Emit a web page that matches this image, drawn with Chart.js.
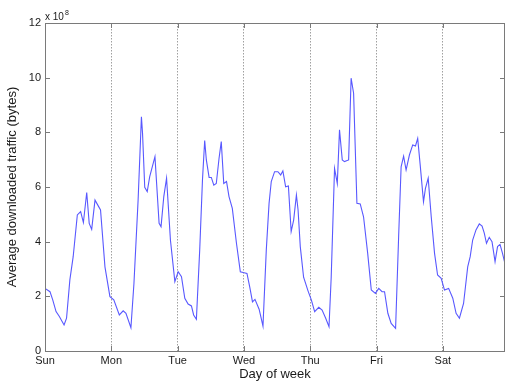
<!DOCTYPE html>
<html>
<head>
<meta charset="utf-8">
<script src="https://cdn.jsdelivr.net/npm/chart.js@4/dist/chart.umd.min.js"></script>
<style>
    html, body { margin: 0; padding: 0; background: #fff; }
    #wrap { width: 506px; height: 382px; }
</style>
</head>
<body>
<div id="wrap"><canvas id="grafico" width="506" height="382"></canvas></div>
<script>
// hours since Sunday 00:00
const horas = [0, 1.8, 2.8, 4, 5.2, 6.9, 7.8, 9, 10.2, 11.7, 12.9, 13.9, 15.1, 16, 16.9, 18.1, 20.1, 21.7, 23.5,
    24.9, 26.9, 28.3, 29.3, 31.1, 32.2, 33.7, 34.9, 35.3, 36.1, 37, 37.9, 39.8, 41.3, 42, 43, 44, 45.4, 47,
    48.2, 49.4, 50.6, 51.8, 53, 53.8, 54.8, 56, 57, 57.8, 58.4, 59.4, 60.2, 61.1, 62, 63, 63.8, 64.7, 65.7, 66.6, 67.8, 69.3, 70.7,
    71.7, 73.1, 74.1, 75.1, 76, 77.5, 78.9, 80.1, 81.1, 81.9, 83.1, 84.3, 85.3, 86.1, 87.1, 88.1, 89.1, 90, 91, 91.6, 92.4, 93.6, 95.2,
    96.4, 97.6, 99.1, 100.3, 101.6, 102.8, 103.6, 104.8, 105.8, 106.6, 107.6, 108.4, 109.9, 110.8, 111.7, 112.9, 114.1, 115.3, 116.8, 118.1, 119.6,
    120.8, 122, 122.9, 124.1, 125.3, 126.9, 128, 128.9, 129.8, 130.7, 131.9, 133.1, 134.1, 134.9, 135.8, 137, 137.7, 138.7, 139.8, 141, 142.1, 143.4,
    144.6, 146.1, 147.6, 148.8, 150, 151.5, 153, 153.9, 154.8, 156, 157.2, 158.2, 159, 159.8, 160.8, 161.8, 162.9, 163.8, 164.7, 165.6, 166.6]

// average downloaded traffic, x 10^8 bytes
const trafego = [2.29, 2.17, 1.87, 1.44, 1.26, 0.95, 1.2, 2.6, 3.45, 4.98, 5.1, 4.7, 5.8, 4.67, 4.45, 5.52, 5.16, 3.08, 1.99,
    1.87, 1.32, 1.47, 1.38, 0.85, 2.48, 5.52, 8.57, 7.97, 5.99, 5.83, 6.38, 7.11, 4.67, 4.55, 5.65, 6.32, 4.06, 2.54,
    2.9, 2.72, 1.93, 1.72, 1.65, 1.32, 1.16, 3.7, 6.26, 7.7, 6.99, 6.35, 6.35, 6.07, 6.13, 7.05, 7.66, 6.13, 6.2, 5.65, 5.22, 3.94, 2.9,
    2.87, 2.84, 2.35, 1.8, 1.89, 1.53, 0.91, 3.7, 5.4, 6.2, 6.56, 6.56, 6.44, 6.59, 6.01, 6.04, 4.37, 4.79, 5.71, 5.16, 3.82, 2.7, 2.2,
    1.87, 1.44, 1.6, 1.5, 1.2, 0.89, 2.72, 6.68, 6.13, 8.09, 6.99, 6.93, 6.99, 9.98, 9.43, 5.4, 5.38, 4.91, 3.57, 2.23, 2.11,
    2.29, 2.17, 2.17, 1.38, 1.01, 0.83, 4.18, 6.74, 7.13, 6.62, 7.17, 7.54, 7.5, 7.78, 6.81, 5.46, 5.95, 6.32, 4.91, 3.57, 2.78, 2.66,
    2.23, 2.29, 1.93, 1.38, 1.2, 1.74, 3.08, 3.45, 4.06, 4.43, 4.65, 4.57, 4.31, 3.94, 4.16, 4.0, 3.27, 3.82, 3.9, 3.57, 3.15]

const dias = ['Sun', 'Mon', 'Tue', 'Wed', 'Thu', 'Fri', 'Sat']
const ticksY = [0, 2, 4, 6, 8, 10, 12]

const fonte = '"Liberation Sans", Arial, sans-serif'
const corEixo = '#7a7a7a'

// MATLAB-like box with inward ticks and the x 10^8 label
const moldura = {
    id: 'moldura',
    afterDraw(chart) {
        const ctx = chart.ctx
        const a = chart.chartArea
        const sx = chart.scales.x
        const sy = chart.scales.y
        ctx.save()
        ctx.strokeStyle = corEixo
        ctx.lineWidth = 1
        ctx.strokeRect(Math.round(a.left) + 0.5, Math.round(a.top) + 0.5, Math.round(a.right - a.left) - 1, Math.round(a.bottom - a.top))
        ctx.beginPath()
        sx.ticks.forEach(t => {
            const x = Math.round(sx.getPixelForValue(t.value)) + 0.5
            ctx.moveTo(x, a.bottom); ctx.lineTo(x, a.bottom - 5)
            ctx.moveTo(x, a.top); ctx.lineTo(x, a.top + 5)
        })
        sy.ticks.forEach(t => {
            const y = Math.round(sy.getPixelForValue(t.value)) + 0.5
            ctx.moveTo(a.left, y); ctx.lineTo(a.left + 5, y)
            ctx.moveTo(a.right, y); ctx.lineTo(a.right - 5, y)
        })
        ctx.stroke()

        ctx.fillStyle = '#1a1a1a'
        ctx.textBaseline = 'alphabetic'
        ctx.textAlign = 'left'
        ctx.font = '10px ' + fonte
        ctx.fillText('x 10', a.left, a.top - 3)
        const w = ctx.measureText('x 10').width
        ctx.font = '7px ' + fonte
        ctx.fillText('8', a.left + w + 1, a.top - 8)
        ctx.restore()
    }
}

const ctx = document.getElementById('grafico').getContext('2d')

new Chart(ctx, {
    type: 'line',
    data: {
        datasets: [{
            data: horas.map((h, i) => ({ x: h, y: trafego[i] })),
            borderColor: '#5858ff',
            borderWidth: 1.1,
            pointRadius: 0,
            tension: 0,
            fill: false
        }]
    },
    options: {
        responsive: false,
        animation: false,
        layout: { padding: { top: 23, right: 1, left: 0, bottom: 0 } },
        plugins: {
            legend: { display: false },
            tooltip: { enabled: false }
        },
        scales: {
            x: {
                type: 'linear',
                min: 0,
                max: 166.5,
                afterFit: scale => { scale.height = 31 },
                afterBuildTicks: scale => {
                    scale.ticks = dias.map((d, i) => ({ value: i * 24 }))
                },
                ticks: {
                    autoSkip: false,
                    maxRotation: 0,
                    padding: 3,
                    color: '#1a1a1a',
                    font: { family: fonte, size: 11 },
                    callback: v => dias[v / 24]
                },
                grid: {
                    drawTicks: false,
                    color: ctx => ctx.tick && ctx.tick.value > 0 ? '#a0a0a0' : 'rgba(0,0,0,0)',
                    lineWidth: 1
                },
                border: { display: false, dash: [1.5, 1.5] },
                title: {
                    display: true,
                    text: 'Day of week',
                    color: '#1a1a1a',
                    font: { family: fonte, size: 13 },
                    padding: { top: 0, bottom: 0 }
                }
            },
            y: {
                min: 0,
                max: 12,
                afterFit: scale => { scale.width = 45 },
                afterBuildTicks: scale => {
                    scale.ticks = ticksY.map(v => ({ value: v }))
                },
                ticks: {
                    padding: 4,
                    color: '#1a1a1a',
                    font: { family: fonte, size: 11 }
                },
                grid: { display: false, drawTicks: false },
                border: { display: false },
                title: {
                    display: true,
                    text: 'Average downloaded traffic (bytes)',
                    color: '#1a1a1a',
                    font: { family: fonte, size: 13 },
                    padding: { top: 5, bottom: 0 }
                }
            }
        }
    },
    plugins: [moldura]
})
</script>
</body>
</html>
